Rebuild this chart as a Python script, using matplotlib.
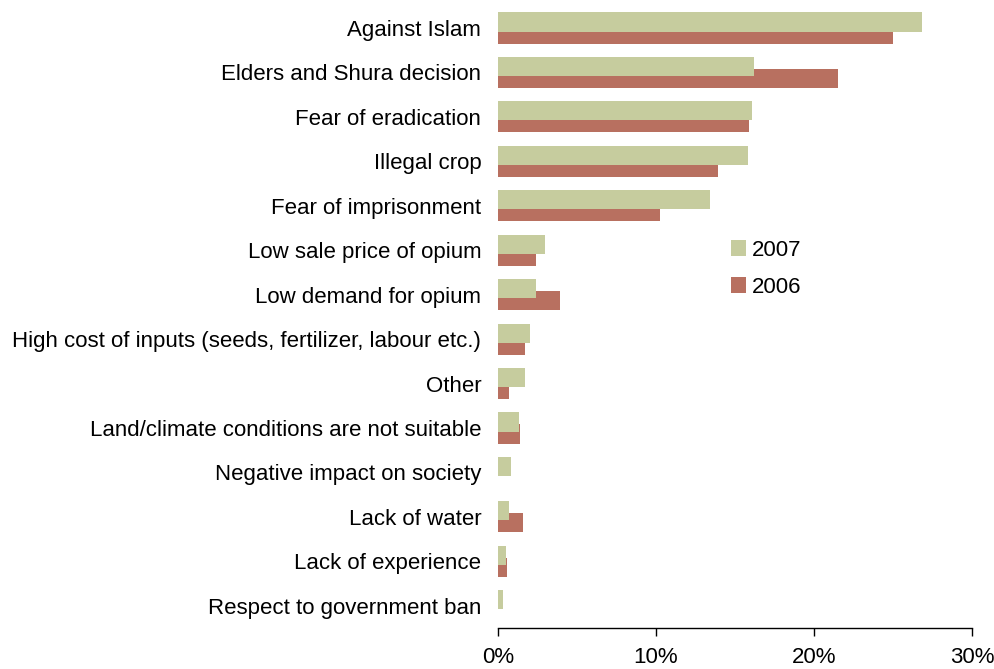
'''
reasons for not cultivating opium, 2006 vs 2007
'''

import matplotlib.pyplot as plt
import numpy as np

categories = [
    'Against Islam',
    'Elders and Shura decision',
    'Fear of eradication',
    'Illegal crop',
    'Fear of imprisonment',
    'Low sale price of opium',
    'Low demand for opium',
    'High cost of inputs (seeds, fertilizer, labour etc.)',
    'Other',
    'Land/climate conditions are not suitable',
    'Negative impact on society',
    'Lack of water',
    'Lack of experience',
    'Respect to government ban',
]
values_2007 = [26.8, 16.2, 16.1, 15.8, 13.4, 3.0, 2.4, 2.0, 1.7, 1.3, 0.8, 0.7, 0.5, 0.3]
values_2006 = [25.0, 21.5, 15.9, 13.9, 10.25, 2.4, 3.9, 1.7, 0.7, 1.4, 0.0, 1.6, 0.6, 0.0]
x_ticks = [0, 10, 20, 30]
x_tick_labels = ['0%', '10%', '20%', '30%']

plt.rcParams['font.family'] = ['Liberation Sans', 'DejaVu Sans']

fig = plt.figure(figsize=(9.95, 6.69), dpi=100)
ax = fig.add_axes([0.5005, 0.0613, 0.4765, 0.93])

y = np.arange(len(categories))
h = 0.43
off = 0.135
ax.barh(y + off, values_2006, height=h, color='#B87060', label='2006', zorder=2)
ax.barh(y - off, values_2007, height=h, color='#C6CC9E', label='2007', zorder=3)

ax.set_xlim(0, 30)
ax.set_ylim(len(categories) - 0.5, -0.5)
ax.set_xticks(x_ticks)
ax.set_xticklabels(x_tick_labels, fontsize=16)
ax.set_yticks(y)
ax.set_yticklabels(categories, fontsize=16)

for side in ['top', 'right', 'left']:
    ax.spines[side].set_visible(False)
ax.spines['bottom'].set_linewidth(1)
ax.tick_params(axis='y', length=0, pad=12)
ax.tick_params(axis='x', direction='out', length=6, width=1, pad=8)

handles, labels = ax.get_legend_handles_labels()
ax.legend(handles[::-1], labels[::-1], loc='upper left', bbox_to_anchor=(0.4916, 0.624),
          frameon=False, fontsize=16, handlelength=0.68, handleheight=0.68,
          handletextpad=0.25, labelspacing=0.72, borderaxespad=0, borderpad=0)

plt.savefig('out.png', dpi=100)
